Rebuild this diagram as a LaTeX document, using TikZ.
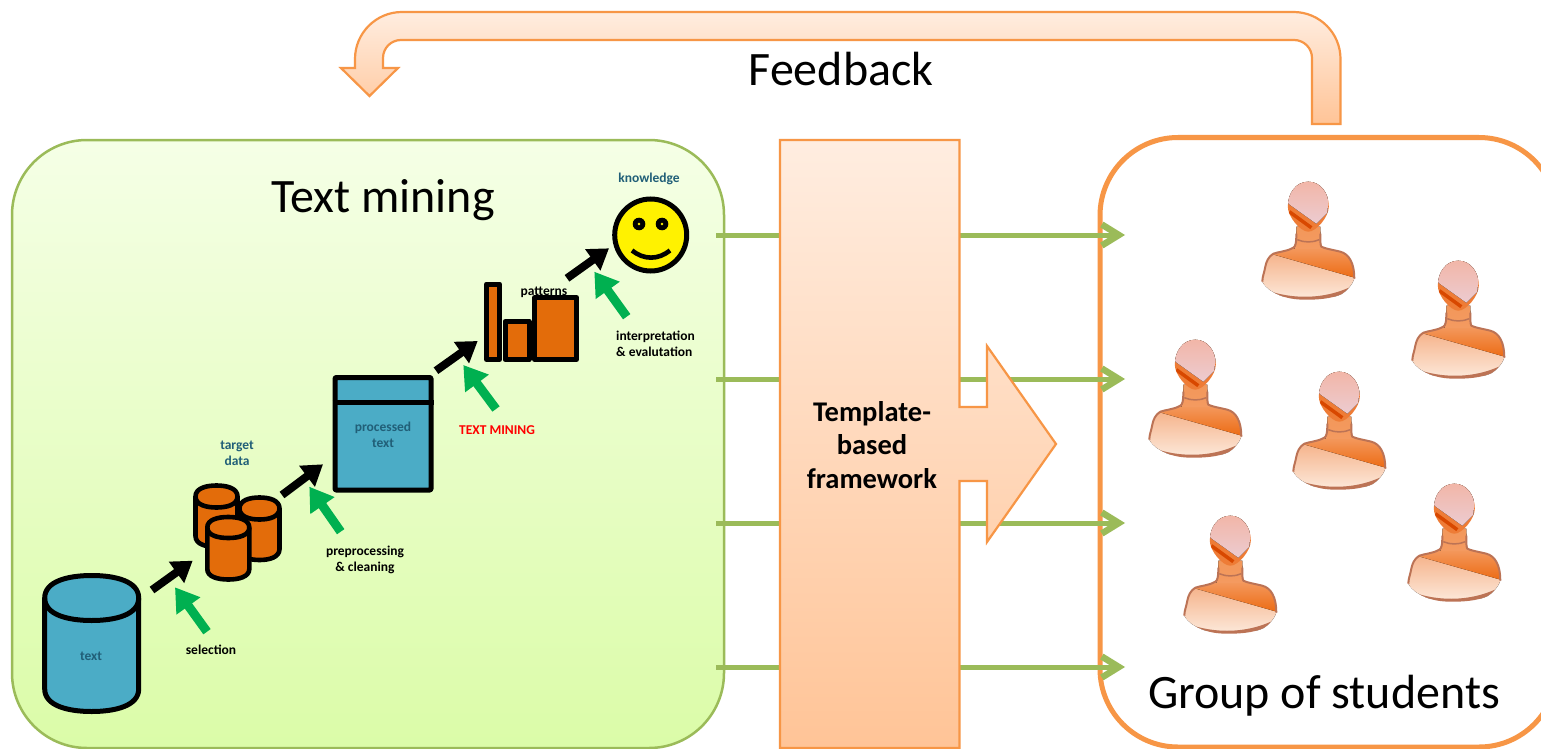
\documentclass[tikz,border=0pt]{standalone}
\usepackage{fontspec}
\setmainfont{Carlito}
\usetikzlibrary{arrows.meta}
\definecolor{orangeline}{HTML}{F79646}
\definecolor{greenline}{HTML}{9BBB59}
\definecolor{panelTop}{HTML}{F5FFE6}
\definecolor{panelBot}{HTML}{DBFCA8}
\definecolor{peachTop}{HTML}{FFEDE0}
\definecolor{peachBot}{HTML}{FFC497}
\definecolor{drumblue}{HTML}{4BACC6}
\definecolor{druborange}{HTML}{E36C0A}
\definecolor{tealtext}{HTML}{215F78}
\definecolor{arrowgreen}{HTML}{00B050}
\definecolor{studA}{HTML}{F29A66}
\definecolor{studB}{HTML}{FCE6D6}
\definecolor{studC}{HTML}{F49A60}
\definecolor{studD}{HTML}{EC6A12}
\definecolor{studE}{HTML}{BC7355}
\definecolor{studF}{HTML}{EE7C36}
\definecolor{studG}{HTML}{F2B5A6}
\definecolor{studH}{HTML}{ECCBD0}
\definecolor{studI}{HTML}{D84800}
\tikzset{
  panelbox/.style={draw=greenline,line width=2.5pt,top color=panelTop,bottom color=panelBot,rounded corners=75pt},
  groupbox/.style={draw=orangeline,line width=5pt,fill=white,rounded corners=78pt},
  peachshape/.style={draw=orangeline,line width=2.2pt,top color=peachTop,bottom color=peachBot,line join=miter},
  feedlink/.style={draw=greenline,line width=5pt,-{Straight Barb[length=17pt,width=21pt,line width=6.5pt]}},
  stepline/.style={draw=black,line width=8pt,-{Triangle[length=20pt,width=25pt]}},
  hintline/.style={draw=arrowgreen,line width=9pt,-{Triangle[length=23pt,width=28pt]}},
  solid box/.style={draw=black,line width=5pt,line join=round},
  smalllabel/.style={font=\fontsize{13.5}{16}\selectfont\bfseries,align=center,inner sep=0pt,text=black},
  teallabel/.style={smalllabel,text=tealtext},
  titlelabel/.style={font=\fontsize{48}{52}\selectfont,inner sep=0pt,text=black},
  student/.pic={
    % body
    \begin{scope}
      \clip (-12,20) -- (-12,30) .. controls (-12,36) and (-13,40) .. (-15,41)
        .. controls (-22,45) and (-30,45) .. (-35,47)
        .. controls (-40,50) and (-42,55) .. (-43,60)
        .. controls (-44,66) and (-46,70) .. (-46,75)
        .. controls (-42,82) and (-36,85) .. (-32,87)
        .. controls (-22,92) and (-12,93) .. (-2,93)
        .. controls (10,93) and (22,92) .. (32,88)
        .. controls (38,85) and (44,78) .. (46,72)
        .. controls (46,65) and (45,58) .. (42,53)
        .. controls (40,49) and (36,46) .. (32,45)
        .. controls (24,43) and (17,42) .. (13,40)
        .. controls (12,38) and (12,34) .. (12,30) -- (12,20) -- cycle;
      \fill[top color=studA,bottom color=studB] (-50,25) rectangle (50,90);
      \fill[top color=studC,bottom color=studD] (-50,40) -- (50,40) -- (50,72) -- (-50,43.5) -- cycle;
      \fill[studE] (-50,80) .. controls (-20,94) and (20,94) .. (50,76) -- (50,100) -- (-50,100) -- cycle;
      \fill[top color=studD!70!white,bottom color=studC] (-14,15) rectangle (14,42);
    \end{scope}
    \draw[studE,line width=2pt,line join=round] (-12,27) -- (-12,30) .. controls (-12,36) and (-13,40) .. (-15,41)
        .. controls (-22,45) and (-30,45) .. (-35,47)
        .. controls (-40,50) and (-42,55) .. (-43,60)
        .. controls (-44,66) and (-46,70) .. (-46,75)
        (46,72) .. controls (46,65) and (45,58) .. (42,53)
        .. controls (40,49) and (36,46) .. (32,45)
        .. controls (24,43) and (17,42) .. (13,40)
        .. controls (12,38) and (12,34) .. (12,30) -- (12,27);
    \draw[studE,line width=1.5pt] (-11,33) .. controls (-4,36) and (4,36) .. (11,33);
    % head
    \begin{scope}
      \clip (0,-25) .. controls (12,-25) and (20.5,-14) .. (20.5,0)
        .. controls (20.5,10) and (8,25) .. (0,25)
        .. controls (-8,25) and (-20.5,10) .. (-20.5,0)
        .. controls (-20.5,-14) and (-12,-25) .. (0,-25) -- cycle;
      \fill[studF] (-22,-27) rectangle (22,27);
      \fill[top color=studG,bottom color=studH] (-22,-27) -- (22,-27) -- (19,6) -- (8,17) -- (-20,-3) -- cycle;
      \draw[studI,line width=3.5pt] (-19,5) -- (3,21);
    \end{scope}
  }
}
\newcommand{\drumshape}[7]{% cx, top cy, bottom cy, rx, ry, fill, line width
  \draw[draw=black,fill=#6,line width=#7,line join=round]
    ({#1-#4},#2) -- ({#1-#4},#3)
    .. controls ({#1-#4},{#3+0.75*#5}) and ({#1-0.5*#4},{#3+#5}) .. (#1,{#3+#5})
    .. controls ({#1+0.5*#4},{#3+#5}) and ({#1+#4},{#3+0.75*#5}) .. ({#1+#4},#3)
    -- ({#1+#4},#2)
    .. controls ({#1+#4},{#2-0.75*#5}) and ({#1+0.5*#4},{#2-#5}) .. (#1,{#2-#5})
    .. controls ({#1-0.5*#4},{#2-#5}) and ({#1-#4},{#2-0.75*#5}) .. ({#1-#4},#2) -- cycle;
  \draw[draw=black,line width=#7]
    ({#1-#4},#2)
    .. controls ({#1-#4},{#2+0.75*#5}) and ({#1-0.5*#4},{#2+#5}) .. (#1,{#2+#5})
    .. controls ({#1+0.5*#4},{#2+#5}) and ({#1+#4},{#2+0.75*#5}) .. ({#1+#4},#2);
}
\begin{document}
\begin{tikzpicture}[x=1pt,y=-1pt]
\useasboundingbox (0,0) rectangle (1541,749);
\clip (0,0) rectangle (1541,749);
\fill[white] (0,0) rectangle (1541,749);

% feedback arrow
\path[peachshape] (1340.5,124) [rounded corners=47pt] -- (1340.5,12) -- (355,12) [sharp corners] -- (355,68)
  -- (341,68) -- (369.5,96) -- (398,68) -- (383,68) [rounded corners=18pt] -- (383,40)
  -- (1312,40) [sharp corners] -- (1312,124) -- cycle;
\node[titlelabel] (feedback) at (841,69) {Feedback};

% main containers
\path[panelbox] (12,140) rectangle (724,748);
\path[groupbox] (1100,137.5) rectangle (1557,747);

% links through the framework
\foreach \n/\yy in {1/235,2/379,3/523,4/667}{
  \coordinate (from\n) at (716,\yy);
  \coordinate (to\n) at (1125,\yy);
  \draw[feedlink] (from\n) -- (to\n);
}

% template framework with its block arrow
\path[peachshape] (780,140) -- (959.5,140) -- (959.5,407) -- (987,407) -- (987,346) -- (1056,444)
  -- (987,542) -- (987,481) -- (959.5,481) -- (959.5,748) -- (780,748) -- cycle;
\node[font=\fontsize{28.5}{33.5}\selectfont\bfseries,align=center,inner sep=0pt] (framework) at (872,445) {Template-\\based\\framework};

% titles
\node[titlelabel] (mining) at (383,200) {Text mining};
\node[titlelabel] (students) at (1324,696) {Group of students};

% text drum
\drumshape{91.7}{598}{689}{47}{22.5}{drumblue}{5pt}
\node[teallabel] (textdrum) at (91,656) {text};
\node[smalllabel] (selection) at (211,650) {selection};

% target data drums
\drumshape{216.5}{496.5}{536}{21}{11}{druborange}{4.6pt}
\drumshape{259.5}{508.5}{549}{20}{11}{druborange}{4.6pt}
\drumshape{228.3}{527.5}{569}{21}{10.5}{druborange}{4.6pt}
\node[teallabel] (target) at (237,453.5) {target\\data};
\node[smalllabel] (prep) at (365,560) {preprocessing\\\& cleaning};

% processed text
\node[solid box,fill=drumblue,minimum width=96pt,minimum height=112.5pt,inner sep=0pt,rounded corners=1pt] (processed) at (383,433.75) {};
\draw[black,line width=5pt] (processed.north west |- 0,402.7) -- (processed.north east |- 0,402.7);
\node[teallabel] at (383,435) {processed\\text};

% patterns
\node[smalllabel] (patterns) at (544,292) {patterns};
\path[solid box,fill=druborange] (486.5,284) rectangle (499.5,359.5);
\path[solid box,fill=druborange] (505,321.5) rectangle (529,359.5);
\path[solid box,fill=druborange] (534.5,297.5) rectangle (576.5,359.5);
\node[smalllabel,text=red] (tm) at (497,430) {TEXT MINING};
\node[smalllabel,align=left,anchor=west] (interp) at (616,344) {interpretation\\\& evalutation};

% knowledge
\node[teallabel] (knowledge) at (649,179) {knowledge};
\node[draw=black,line width=5pt,fill=yellow,circle,minimum size=72pt,inner sep=0pt] (smile) at (650.7,235) {};
\fill[black] (639,224) circle (6.3pt) (662,224) circle (6.3pt);
\fill[yellow] (639,224) circle (1.4pt) (662,224) circle (1.4pt);
\draw[black,line width=4.6pt,line cap=butt] (632,250.5) .. controls (644,260) and (658,260) .. (670,250.5);

% step arrows
\coordinate (s1a) at (152,590);   \coordinate (s1b) at (192.7,560.7);
\coordinate (s2a) at (282,495);   \coordinate (s2b) at (323,464.3);
\coordinate (s3a) at (436,370.7); \coordinate (s3b) at (477.7,341);
\coordinate (s4a) at (567,278.3); \coordinate (s4b) at (609,248.3);
\draw[stepline] (s1a) -- (s1b);
\draw[stepline] (s2a) -- (s2b);
\draw[stepline] (s3a) -- (s3b);
\draw[stepline] (s4a) -- (s4b);

% hint arrows
\coordinate (h1a) at (207,631.7);   \coordinate (h1b) at (175,587.3);
\coordinate (h2a) at (340.7,531.7); \coordinate (h2b) at (309.3,486.7);
\coordinate (h3a) at (496,409);     \coordinate (h3b) at (463.3,365);
\coordinate (h4a) at (626.7,316.7); \coordinate (h4b) at (594.3,271.7);
\draw[hintline] (h1a) -- (h1b);
\draw[hintline] (h2a) -- (h2b);
\draw[hintline] (h3a) -- (h3b);
\draw[hintline] (h4a) -- (h4b);

% students
\foreach \px/\py in {1308.3/206.7,1458.3/285.7,1195.3/364.7,1339.3/396.7,1230.3/540.7,1454.3/508.7}{
  \pic at (\px,\py) {student};
}
\end{tikzpicture}
\end{document}
